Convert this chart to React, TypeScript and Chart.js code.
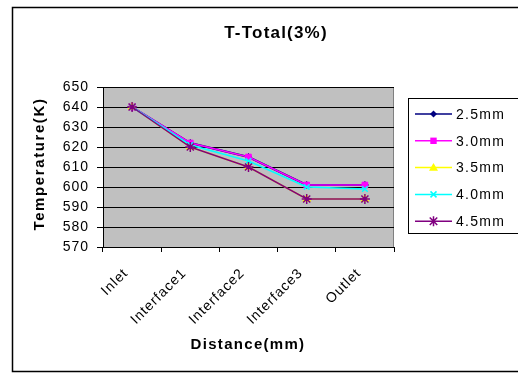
import React, { useEffect, useRef } from "react";
import { Chart, registerables } from "chart.js";

Chart.register(...registerables);

const categories = ["Inlet", "Interface1", "Interface2", "Interface3", "Outlet"];
const seriesNames = ["2.5mm", "3.0mm", "3.5mm", "4.0mm", "4.5mm"];
const s25 = [640, 622, 615, 601, 601];
const s30 = [640, 622, 615, 601, 601];
const s35 = [640, 620, 610, 594, 594];
const s40 = [640, 621, 613, 600, 599];
const s45 = [640, 620, 610, 594, 594];
const yMin = 570;
const yMax = 650;
const yStep = 10;

const colors = ["#000080", "#FF00FF", "#FFFF00", "#00FFFF", "#800080"];
const pointStyles = ["rectRot", "rect", "triangle", "crossRot", "star"];
const pointRadii = [3.5, 4, 4.5, 4, 5];

const FONT = "'Liberation Sans', Arial, sans-serif";

function drawMarker(ctx: CanvasRenderingContext2D, style: string, x: number, y: number, r: number, color: string) {
  ctx.save();
  ctx.fillStyle = color;
  ctx.strokeStyle = color;
  ctx.lineWidth = 1.5;
  ctx.beginPath();
  if (style === "rectRot") {
    ctx.moveTo(x, y - r);
    ctx.lineTo(x + r, y);
    ctx.lineTo(x, y + r);
    ctx.lineTo(x - r, y);
    ctx.closePath();
    ctx.fill();
  } else if (style === "rect") {
    ctx.rect(x - r * 0.8, y - r * 0.8, r * 1.6, r * 1.6);
    ctx.fill();
  } else if (style === "triangle") {
    ctx.moveTo(x, y - r);
    ctx.lineTo(x + r, y + r * 0.7);
    ctx.lineTo(x - r, y + r * 0.7);
    ctx.closePath();
    ctx.fill();
  } else if (style === "crossRot") {
    const d = r * 0.75;
    ctx.moveTo(x - d, y - d);
    ctx.lineTo(x + d, y + d);
    ctx.moveTo(x + d, y - d);
    ctx.lineTo(x - d, y + d);
    ctx.stroke();
  } else {
    const d = r * 0.75;
    ctx.moveTo(x - d, y - d);
    ctx.lineTo(x + d, y + d);
    ctx.moveTo(x + d, y - d);
    ctx.lineTo(x - d, y + d);
    ctx.moveTo(x, y - r);
    ctx.lineTo(x, y + r);
    ctx.stroke();
  }
  ctx.restore();
}

const spacingPlugin = {
  id: "spacing",
  beforeUpdate(chart: any) {
    (chart.ctx as any).letterSpacing = "1px";
  },
  beforeLayout(chart: any) {
    (chart.ctx as any).letterSpacing = "1px";
  },
};

const decorPlugin = {
  id: "decor",
  beforeDraw(chart: any) {
    const { ctx, chartArea } = chart;
    (ctx as any).letterSpacing = "1px";
    ctx.save();
    ctx.fillStyle = "#FFFFFF";
    ctx.fillRect(0, 0, chart.width, chart.height);
    // outer frame
    ctx.strokeStyle = "#000000";
    ctx.lineWidth = 1.5;
    ctx.strokeRect(12.5, 7.5, 530, 364);
    // plot background
    ctx.fillStyle = "#C0C0C0";
    ctx.fillRect(chartArea.left, chartArea.top, chartArea.right - chartArea.left, chartArea.bottom - chartArea.top);
    ctx.strokeStyle = "#808080";
    ctx.lineWidth = 1;
    ctx.strokeRect(chartArea.left + 0.5, chartArea.top + 0.5, chartArea.right - chartArea.left - 1, chartArea.bottom - chartArea.top);
    ctx.restore();
  },
  afterDraw(chart: any) {
    const { ctx } = chart;
    ctx.save();
    ctx.fillStyle = "#000000";
    ctx.textAlign = "center";
    ctx.textBaseline = "middle";
    (ctx as any).letterSpacing = "1.2px";
    ctx.font = `bold 17px ${FONT}`;
    ctx.fillText("T-Total(3%)", 276, 33);
    (ctx as any).letterSpacing = "1.3px";
    ctx.font = `bold 15px ${FONT}`;
    ctx.fillText("Distance(mm)", 248, 345);
    ctx.save();
    ctx.translate(40, 164);
    ctx.rotate(-Math.PI / 2);
    (ctx as any).letterSpacing = "1.6px";
    ctx.fillText("Temperature(K)", 0, 0);
    ctx.restore();
    // legend
    ctx.strokeStyle = "#000000";
    ctx.lineWidth = 1;
    ctx.fillStyle = "#FFFFFF";
    ctx.fillRect(408.5, 98.5, 120, 135);
    ctx.strokeRect(408.5, 98.5, 120, 135);
    ctx.font = `14px ${FONT}`;
    (ctx as any).letterSpacing = "1.3px";
    ctx.textAlign = "left";
    for (let i = 0; i < seriesNames.length; i++) {
      const y = 114 + i * 26.8;
      ctx.strokeStyle = colors[i];
      ctx.lineWidth = 1.5;
      ctx.beginPath();
      ctx.moveTo(415, y);
      ctx.lineTo(452, y);
      ctx.stroke();
      drawMarker(ctx, pointStyles[i], 433.5, y, pointRadii[i], colors[i]);
      ctx.fillStyle = "#000000";
      ctx.fillText(seriesNames[i], 456, y + 1);
    }
    ctx.restore();
  },
};

export default function App() {
  const ref = useRef<HTMLCanvasElement>(null);
  useEffect(() => {
    document.body.style.margin = "0";
    const seriesData = [s25, s30, s35, s40, s45];
    const chart = new Chart(ref.current as HTMLCanvasElement, {
      type: "line",
      data: {
        labels: categories,
        datasets: seriesData.map((d, i) => ({
          label: seriesNames[i],
          data: d,
          borderColor: colors[i],
          backgroundColor: colors[i],
          pointBackgroundColor: colors[i],
          pointBorderColor: colors[i],
          pointStyle: pointStyles[i] as any,
          pointRadius: pointRadii[i],
          pointBorderWidth: i >= 3 ? 1.5 : 1,
          borderWidth: i === 0 ? 2 : 1.5,
          tension: 0,
          order: 5 - i,
        })),
      },
      options: {
        animation: false,
        responsive: false,
        layout: { padding: { left: 0, right: 124, top: 87, bottom: 0 } },
        plugins: {
          legend: { display: false },
          title: { display: false },
          tooltip: { enabled: false },
        },
        scales: {
          x: {
            offset: true,
            grid: {
              offset: true,
              drawOnChartArea: false,
              drawTicks: true,
              tickLength: 5,
              color: "#000000",
            },
            border: { color: "#000000", width: 1 },
            ticks: {
              color: "#000000",
              font: { family: FONT, size: 14 },
              minRotation: 45,
              maxRotation: 45,
              padding: 13,
              labelOffset: -6,
            },
            afterFit(scale: any) {
              scale.height = 127;
            },
          },
          y: {
            min: yMin,
            max: yMax,
            grid: {
              color: "#000000",
              tickLength: 6,
              lineWidth: 1,
            },
            border: { color: "#000000", width: 1 },
            ticks: {
              stepSize: yStep,
              color: "#000000",
              font: { family: FONT, size: 14 },
              padding: 8,
            },
            afterFit(scale: any) {
              scale.width = 103;
            },
          },
        },
      },
      plugins: [spacingPlugin, decorPlugin],
    });
    return () => chart.destroy();
  }, []);
  return (
    <div style={{ width: 518, height: 374 }}>
      <canvas ref={ref} width={518} height={374} style={{ display: "block" }} />
    </div>
  );
}
